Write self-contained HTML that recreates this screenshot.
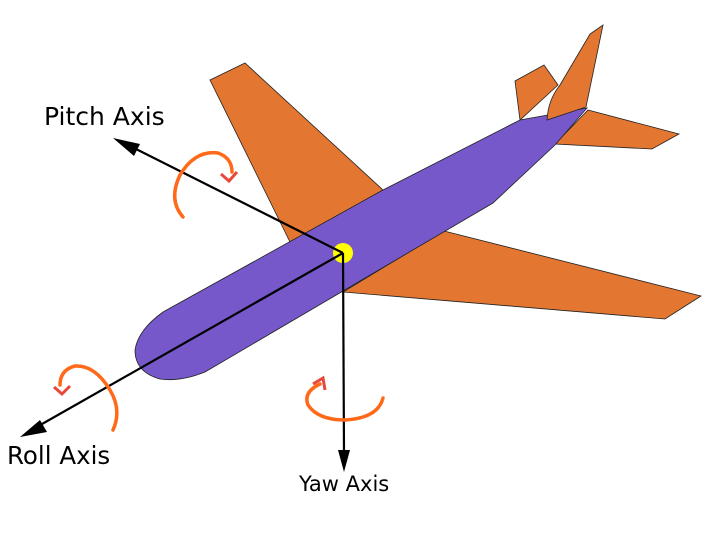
<!DOCTYPE html>
<html><head><style>body{margin:0;background:#fff}svg{display:block}</style></head><body>
<svg width="709" height="533" viewBox="0 0 709 533" xmlns="http://www.w3.org/2000/svg" font-family="DejaVu Sans, sans-serif">
<g stroke="#222" stroke-width="0.8" fill="#e37731">
<polygon points="210,80 245,63 383,190 290,242"/>
<polygon points="444,231 701,296 665,319 343,292"/>
<polygon points="515,81 544,65 558,85 520,120"/>
<polygon points="588,110 679,134 652,149 555,144"/>
</g>
<path d="M163,312 L383,190 L520,120 L587,108 L555,145 L493,203 L205,372 Q180,382 160,379 Q135,372 135,350 Q138,330 163,312 Z" fill="#7758ca" stroke="#222" stroke-width="0.8"/>
<path d="M547,120 Q548,100 560,85 L590,34 L603,25 L586,107 Z" fill="#e37731" stroke="#222" stroke-width="0.8"/>
<circle cx="343" cy="253" r="10" fill="#ffff00"/>
<g stroke="#000" stroke-width="2.2" fill="none">
<line x1="343" y1="253" x2="130" y2="146"/>
<line x1="343" y1="253" x2="35" y2="428"/>
<line x1="343" y1="253" x2="344" y2="452"/>
</g>
<polygon points="113,138 140,144 134,156" fill="#000"/>
<polygon points="20,437 40,420 47,432" fill="#000"/>
<polygon points="338,450 350,450 344,472" fill="#000"/>
<g stroke="#ff6a1a" stroke-width="3.5" fill="none" stroke-linecap="round">
<path d="M183,217 Q168,200 180,175 Q195,150 218,153 Q232,158 232,172"/>
<path d="M113,430 Q122,410 110,390 Q95,365 75,366 Q60,370 60,385"/>
<path d="M320,384 Q303,392 308,405 Q318,420 345,420 Q378,418 383,398"/>
</g>
<g stroke="#e8473c" stroke-width="3" fill="none">
<polyline points="221,174 229,181 237,172"/>
<polyline points="54,387 62,394 70,386"/>
<polyline points="313,384 323,378 325,390"/>
</g>
<text x="44" y="125" font-size="25">Pitch Axis</text>
<text x="7" y="464" font-size="24.5">Roll Axis</text>
<text x="299" y="491" font-size="21">Yaw Axis</text>
</svg>
</body></html>
